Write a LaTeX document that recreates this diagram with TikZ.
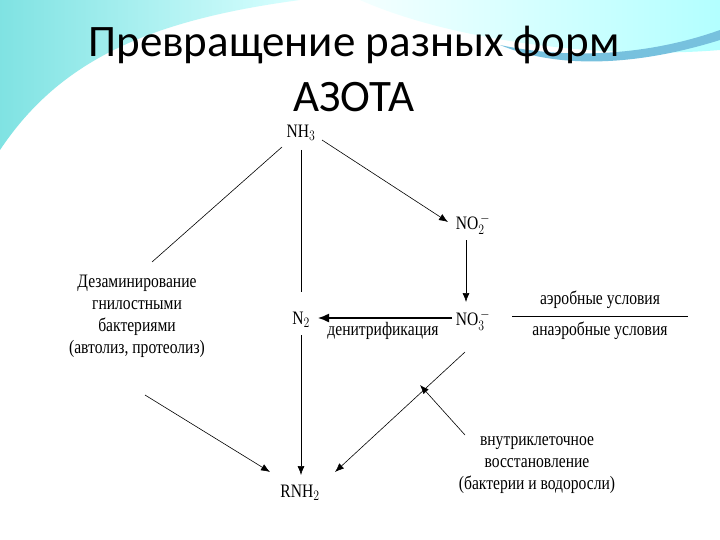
\documentclass[tikz,border=0pt]{standalone}
\usepackage{fontspec}
\usetikzlibrary{arrows.meta}
\setmainfont{Liberation Serif}
\newfontfamily\titlefont{Carlito}
\begin{document}
\begin{tikzpicture}[x=1pt,y=-1pt,
 lbl/.style={font=\fontsize{19}{22}\selectfont, xscale=0.82, align=center, inner sep=1pt},
 con/.style={line width=0.6pt},
 arr/.style={con,-{Latex[length=9pt,width=7pt]}}]
\useasboundingbox (0,0) rectangle (720,540);
\fill[white] (0,0) rectangle (720,540);
% decorative swoosh
\shade[left color=cyan!55!teal!50,right color=cyan!15] (0,0) -- (300,0) .. controls (150,20) and (60,60) .. (0,150) -- cycle;
\shade[left color=white,right color=cyan!30] (300,0) -- (720,0) -- (720,50) .. controls (600,60) and (450,40) .. (360,0) -- cycle;
\fill[cyan!60!teal!60] (720,40) .. controls (640,65) and (560,70) .. (500,45) .. controls (570,60) and (650,55) .. (720,30) -- cycle;
\node[font=\titlefont\fontsize{45}{48}\selectfont] (title1) at (354,45) {Превращение разных форм};
\node[font=\titlefont\fontsize{45}{48}\selectfont] (title2) at (354,97) {АЗОТА};
% nodes
\node[lbl] (nh3) at (301,133) {NH$_3$};
\node[lbl] (no2) at (473,224) {NO$_2^{\,-}$};
\node[lbl] (no3) at (473,320) {NO$_3^{\,-}$};
\node[lbl] (n2) at (301,320) {N$_2$};
\node[lbl] (rnh2) at (300,493) {RNH$_2$};
\node[lbl] (denit) at (383,331) {денитрификация};
\node[lbl] (deam) at (137,316) {Дезаминирование\\гнилостными\\бактериями\\(автолиз, протеолиз)};
\node[lbl] (aer) at (600,300) {аэробные условия};
\node[lbl] (anaer) at (600,331) {анаэробные условия};
\node[lbl] (intra) at (537,465) {внутриклеточное\\восстановление\\(бактерии и водоросли)};
\coordinate (fracl) at (512,316);
\coordinate (fracr) at (688,316);
\coordinate (deamtop) at (152,262);
\coordinate (nh3bl) at (282,147);
\coordinate (nh3b) at (301,150);
\coordinate (n2t) at (301,292);
\coordinate (n2b) at (301,335);
\coordinate (deamb) at (145,395);
\coordinate (no3b) at (465,352);
\coordinate (intrat) at (465,435);
\coordinate (mid) at (420,385);
\coordinate (nh3r) at (322,140);
\coordinate (no2l) at (448,222);
\coordinate (no2b) at (466,240);
\coordinate (no3t) at (466,302);
\coordinate (n2r) at (318,318);
\coordinate (no3l) at (452,318);
\coordinate (rnhl) at (270,472);
\coordinate (rnhr) at (335,472);
\coordinate (rnht) at (301,475);
% connectors
\draw[con] (fracl) -- (fracr);
\draw[con] (deamtop) -- (nh3bl);
\draw[con] (nh3b) -- (n2t);
\draw[arr] (nh3r) -- (no2l);
\draw[arr] (no2b) -- (no3t);
\draw[con,-{Latex[length=11pt,width=9pt]},line width=1.4pt] (no3l) -- (n2r);
\draw[arr] (n2b) -- (rnht);
\draw[arr] (deamb) -- (rnhl);
\draw[arr] (no3b) -- (rnhr);
\draw[arr] (intrat) -- (mid);
\end{tikzpicture}
\end{document}
